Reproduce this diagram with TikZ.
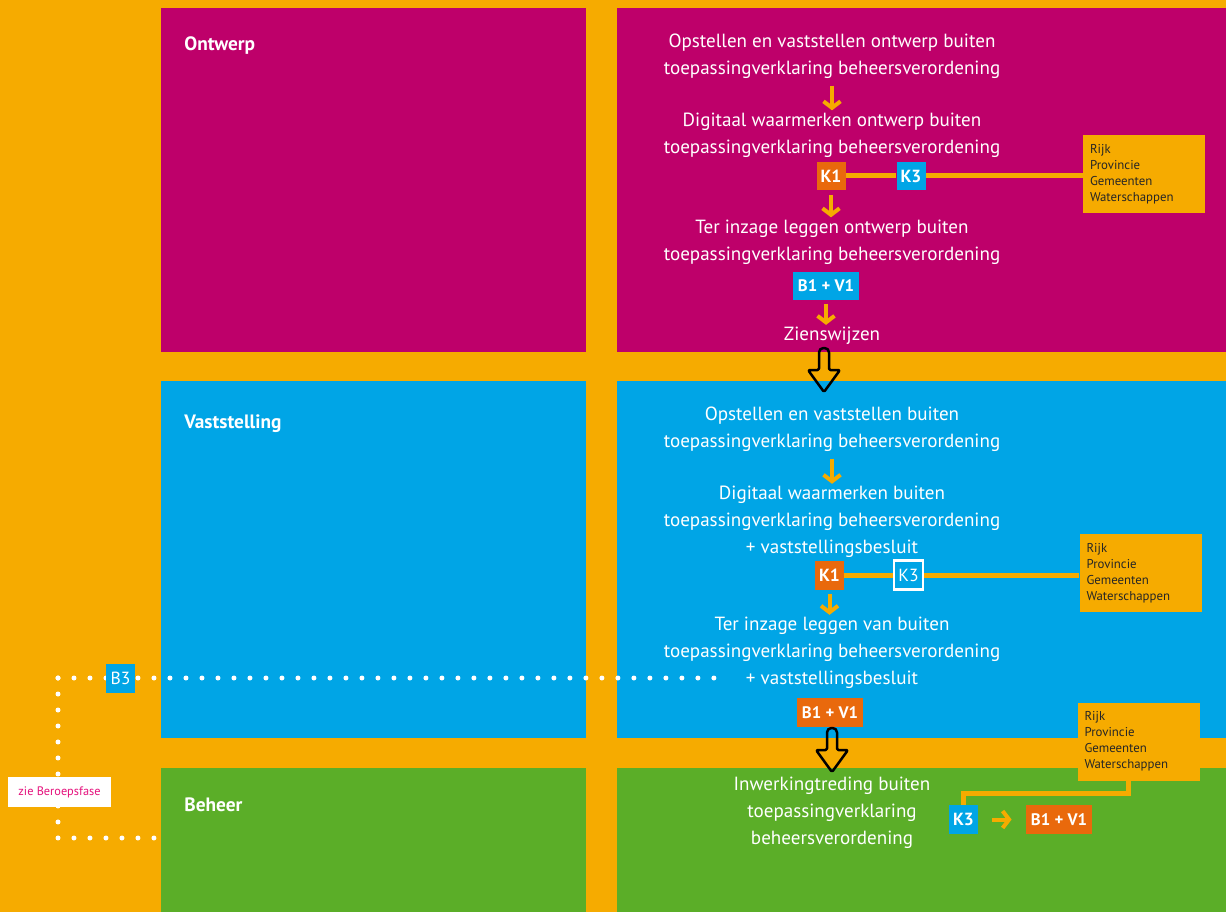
\documentclass[tikz,border=0pt]{standalone}
\usepackage{fontspec}
\setmainfont{PT Sans}
\usetikzlibrary{arrows.meta,positioning,calc}
\definecolor{oranjec}{HTML}{F6AB00}
\definecolor{robijnc}{HTML}{BE006A}
\definecolor{hemelc}{HTML}{00A5E6}
\definecolor{groenc}{HTML}{5BAE28}
\definecolor{kc}{HTML}{E9690C}
\definecolor{rozec}{HTML}{E5127D}

\begin{document}
\begin{tikzpicture}[
  x=0.02cm, y=-0.02cm,
  stap/.style={align=center, text=white, inner sep=0pt, font=\fontsize{10.85}{15.4}\selectfont},
  fase/.style={anchor=base west, text=white, inner sep=0pt, font=\fontsize{11}{13}\selectfont\bfseries},
  kbox/.style={fill=#1, text=white, minimum size=0.58cm, inner sep=0pt, font=\fontsize{10}{12}\selectfont\bfseries},
  kbox/.default=kc,
  bvbox/.style={fill=#1, text=white, minimum height=0.57cm, inner xsep=0.1cm, inner ysep=0pt, font=\fontsize{9.5}{12}\selectfont\bfseries},
  bvbox/.default=kc,
  rijk/.style={fill=oranjec, text=black!85, align=left, minimum width=2.44cm, minimum height=1.56cm,
    text width=2.16cm, inner xsep=0.14cm, font=\fontsize{7.3}{9.1}\selectfont},
  zie/.style={fill=white, text=rozec, minimum width=2.06cm, minimum height=0.6cm, inner sep=0pt,
    font=\fontsize{7}{9}\selectfont},
  oarr/.style={-{Straight Barb[length=0.13cm,width=0.34cm]}, line width=0.08cm, draw=oranjec},
  link/.style={draw=oranjec, line width=0.1cm},
  dots/.style={draw=white, line width=0.1cm, line cap=round, dash pattern=on 0pt off 0.32cm},
  holpijl/.pic={
    \draw[line width=0.05cm, line join=round] (5,22) [rounded corners=2.5pt] -- (5,0) -- (-5,0)
      [rounded corners=0.8pt] -- (-5,22) -- (-16,22) -- (0,44) -- (16,22) -- cycle;
  }
]
  \fill[oranjec] (0,0) rectangle (1226,912);
  \foreach \kleur/\boven/\onder in {robijnc/8/352, hemelc/381/738, groenc/768/912} {
    \fill[\kleur] (161,\boven) rectangle (586,\onder);
    \fill[\kleur] (617,\boven) rectangle (1226,\onder);
  }

  % ontwerp
  \node[fase] (ontwerp) at (184,51) {Ontwerp};
  \node[stap] (opst1) at (832,56) {Opstellen en vaststellen ontwerp buiten\\toepassingverklaring beheersverordening};
  \node[stap] (waar1) at (832,135) {Digitaal waarmerken ontwerp buiten\\toepassingverklaring beheersverordening};
  \node[kbox] (k1a) at (831,176) {K1};
  \node[kbox=hemelc] (k3a) at (911,176) {K3};
  \node[rijk] (rijk1) at (1144,174) {Rijk\\Provincie\\Gemeenten\\Waterschappen};
  \node[stap] (inz1) at (832,242) {Ter inzage leggen ontwerp buiten\\toepassingverklaring beheersverordening};
  \node[bvbox=hemelc] (bv1) at (826,286) {B1 + V1};
  \node[stap] (zien) at (832,336) {Zienswijzen};

  \draw[oarr, shorten <=0.14cm, shorten >=0.04cm] (opst1) -- (waar1);
  \draw[oarr, shorten <=0.08cm, shorten >=0.04cm] (k1a) -- (k1a |- inz1.north);
  \draw[oarr, shorten <=0.06cm, shorten >=0.04cm] (bv1) -- (bv1 |- zien.north);
  \draw[link] (k1a) -- (k3a);
  \draw[link] (k3a) -- (k3a -| rijk1.west);
  \pic at (824,348) {holpijl};

  % vaststelling
  \node[fase] (vast) at (184,428) {Vaststelling};
  \node[stap] (opst2) at (832,429) {Opstellen en vaststellen buiten\\toepassingverklaring beheersverordening};
  \node[stap] (waar2) at (832,522) {Digitaal waarmerken buiten\\toepassingverklaring beheersverordening\\+ vaststellingsbesluit};
  \node[kbox] (k1b) at (829.5,575) {K1};
  \node[kbox=hemelc, draw=white, line width=0.05cm, font=\fontsize{10}{12}\selectfont] (k3b) at (908.5,575) {K3};
  \node[rijk] (rijk2) at (1140.5,573) {Rijk\\Provincie\\Gemeenten\\Waterschappen};
  \node[stap] (inz2) at (832,653) {Ter inzage leggen van buiten\\toepassingverklaring beheersverordening\\+ vaststellingsbesluit};
  \node[bvbox] (bv2) at (830,712.5) {B1 + V1};

  \draw[oarr, shorten <=0.14cm, shorten >=0.04cm] (opst2) -- (waar2);
  \draw[oarr, shorten <=0.08cm, shorten >=0.04cm] (k1b) -- (k1b |- inz2.north);
  \draw[link] (k1b) -- (k3b);
  \draw[link] (k3b) -- (k3b -| rijk2.west);
  \pic at (832,728) {holpijl};

  % beroep
  \coordinate (puntE) at (720,678);
  \coordinate (hoek) at (58,678);
  \coordinate (puntB) at (154,838);
  \draw[dots] (hoek) -- (puntE);
  \draw[dots] (hoek) |- (puntB);
  \node[kbox=hemelc, font=\fontsize{10}{12}\selectfont] (b3) at (120.5,678) {B3};
  \node[zie] (zie) at (59.5,792) {zie Beroepsfase};

  % beheer
  \node[fase] (beheer) at (184,811) {Beheer};
  \node[stap] (inw) at (832,813) {Inwerkingtreding buiten\\toepassingverklaring\\beheersverordening};
  \node[rijk] (rijk3) at (1138.5,741.5) {Rijk\\Provincie\\Gemeenten\\Waterschappen};
  \node[kbox=hemelc] (k3c) at (963.5,819.5) {K3};
  \node[bvbox] (bv3) at (1059,819.5) {B1 + V1};

  \draw[link] ([xshift=-0.2cm]rijk3.south) -- ++(0,13) -| (k3c);
  \draw[oarr, shorten <=0.27cm, shorten >=0.28cm] (k3c) -- (bv3);
\end{tikzpicture}
\end{document}
